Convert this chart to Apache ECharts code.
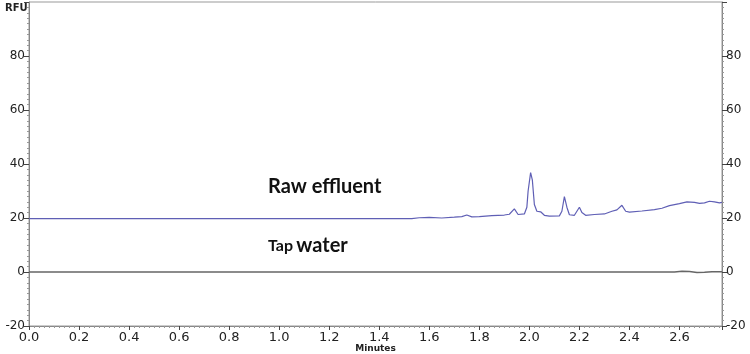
<!DOCTYPE html>
<html>
<head>
<meta charset="utf-8">
<script src="https://cdn.jsdelivr.net/npm/echarts@6/dist/echarts.min.js"></script>
<style>
  html, body { margin: 0; padding: 0; background: #fff; }
  #chart { width: 750px; height: 354px; }
</style>
</head>
<body>
<div id="chart"></div>
<script>
// Raw effluent trace (minutes, RFU)
const rawTimes = [0.00, 1.53, 1.56, 1.60, 1.65, 1.70, 1.73, 1.75, 1.77, 1.80, 1.85, 1.90, 1.92, 1.94, 1.955,
  1.98, 1.99, 1.995, 2.005, 2.012, 2.02, 2.03, 2.045, 2.06, 2.08, 2.12, 2.13, 2.14, 2.15, 2.16, 2.18,
  2.19, 2.20, 2.21, 2.225, 2.26, 2.30, 2.33, 2.35, 2.37, 2.385, 2.40, 2.45, 2.50, 2.53, 2.56, 2.60,
  2.63, 2.66, 2.68, 2.70, 2.72, 2.74, 2.76, 2.77]
const rawValues = [19.8, 19.8, 20.1, 20.2, 20.0, 20.3, 20.5, 21.1, 20.4, 20.5, 20.9, 21.1, 21.4, 23.4, 21.3,
  21.5, 24.0, 30.0, 36.8, 34.0, 25.0, 22.5, 22.3, 21.0, 20.7, 20.8, 22.5, 27.9, 24.0, 21.2, 21.0,
  22.5, 24.0, 22.0, 21.0, 21.3, 21.5, 22.5, 23.0, 24.7, 22.5, 22.2, 22.6, 23.1, 23.6, 24.6, 25.3,
  26.0, 25.8, 25.4, 25.6, 26.2, 26.0, 25.6, 25.8]

// Tap water trace
const tapTimes = [0.00, 2.58, 2.61, 2.64, 2.67, 2.70, 2.73, 2.77]
const tapValues = [0.0, 0.0, 0.3, 0.2, -0.2, -0.1, 0.1, 0.1]

const yTicks = { min: -20, max: 100, interval: 20 }
const xTicks = { min: 0, max: 2.77, interval: 0.2 }

const zip = (xs, ys) => xs.map((x, i) => [x, ys[i]])

const chart = echarts.init(document.getElementById('chart'))

const axisFont = { fontFamily: 'DejaVu Sans', fontSize: 12, color: '#222' }

function yAxis(position) {
  return {
    type: 'value',
    position,
    min: yTicks.min,
    max: yTicks.max,
    interval: yTicks.interval,
    axisLine: { show: true, lineStyle: { color: '#888', width: 1 } },
    axisTick: { show: true, length: 5, lineStyle: { color: '#444' } },
    minorTick: { show: true, splitNumber: 10, length: 2, lineStyle: { color: '#999' } },
    axisLabel: { ...axisFont, margin: 4, showMaxLabel: false },
    splitLine: { show: false },
  }
}

chart.setOption({
  animation: false,
  backgroundColor: '#fff',
  grid: {
    left: 29, right: 28, top: 2, bottom: 28,
    outerBoundsMode: 'none',
    containLabel: false,
    show: true, borderColor: '#999', borderWidth: 1,
  },
  xAxis: {
    type: 'value',
    min: xTicks.min,
    max: xTicks.max,
    interval: xTicks.interval,
    name: 'Minutes',
    nameLocation: 'middle',
    nameGap: 18,
    nameMoveOverlap: false,
    nameTextStyle: { fontFamily: 'DejaVu Sans', fontSize: 9, fontWeight: 'bold', color: '#222' },
    axisLine: { show: true, onZero: false, lineStyle: { color: '#888', width: 1 } },
    axisTick: { show: true, length: 4, lineStyle: { color: '#444' } },
    minorTick: { show: true, splitNumber: 10, length: 2, lineStyle: { color: '#999' } },
    axisLabel: {
      ...axisFont,
      fontSize: 13,
      margin: 5,
      showMaxLabel: false,
      formatter: (v) => v.toFixed(1),
    },
    splitLine: { show: false },
  },
  yAxis: [yAxis('left'), yAxis('right')],
  graphic: [
    {
      type: 'text', left: 5, top: 3,
      style: { text: 'RFU', font: 'bold 10px "DejaVu Sans"', fill: '#222' },
    },
    {
      type: 'text', left: 268, top: 177,
      style: { text: 'Raw effluent', font: 'bold 20px Lato', fill: '#111' },
    },
    {
      type: 'text', left: 268, top: 236,
      style: {
        text: '{s|Tap} {b|water}',
        rich: {
          s: { font: 'bold 16px Lato', fill: '#111' },
          b: { font: 'bold 20px Lato', fill: '#111' },
        },
      },
    },
  ],
  series: [
    {
      name: 'Raw effluent',
      type: 'line',
      data: zip(rawTimes, rawValues),
      showSymbol: false,
      symbol: 'none',
      lineStyle: { color: '#5f5fb5', width: 1.2 },
      z: 3,
    },
    {
      name: 'Tap water',
      type: 'line',
      data: zip(tapTimes, tapValues),
      showSymbol: false,
      symbol: 'none',
      lineStyle: { color: '#666', width: 1.5 },
      z: 2,
    },
  ],
})
</script>
</body>
</html>
